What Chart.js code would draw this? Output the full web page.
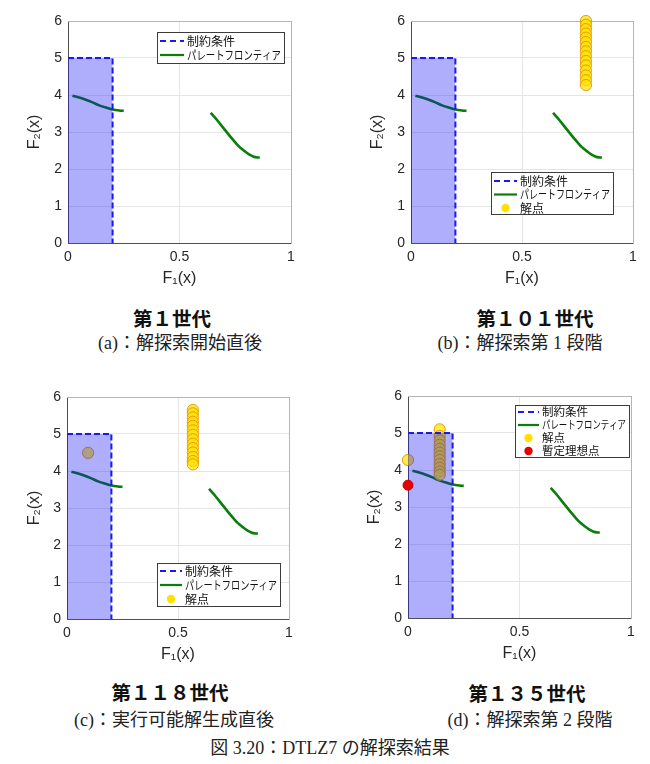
<!DOCTYPE html>
<html><head><meta charset="utf-8">
<script src="https://cdn.jsdelivr.net/npm/chart.js@4.4.0/dist/chart.umd.min.js"></script>
<style>
html,body{margin:0;padding:0;background:#fff;width:650px;height:764px;overflow:hidden;position:relative}
canvas{position:absolute}
.cap{position:absolute;transform:translateX(-50%);white-space:nowrap;line-height:1;color:#111}
.gen{font-family:"Noto Sans CJK JP";font-weight:700;font-size:19.5px}
.sub{font-family:"Liberation Serif","Noto Sans CJK JP";font-size:18px;color:#222}
</style></head><body>
<canvas id="ca" width="325" height="300" style="left:0;top:0"></canvas>
<canvas id="cb" width="307" height="300" style="left:343px;top:0"></canvas>
<canvas id="cc" width="325" height="300" style="left:0;top:376px"></canvas>
<canvas id="cd" width="310" height="300" style="left:340px;top:375px"></canvas>
<div class="cap gen" style="left:172px;top:308px">第１世代</div>
<div class="cap sub" style="left:180px;top:334px">(a)：解探索開始直後</div>
<div class="cap gen" style="left:535px;top:308px">第１０１世代</div>
<div class="cap sub" style="left:520px;top:334px">(b)：解探索第 1 段階</div>
<div class="cap gen" style="left:170px;top:682px">第１１８世代</div>
<div class="cap sub" style="left:174px;top:711px">(c)：実行可能解生成直後</div>
<div class="cap gen" style="left:527px;top:683px">第１３５世代</div>
<div class="cap sub" style="left:530px;top:711px">(d)：解探索第 2 段階</div>
<div class="cap sub" style="left:330px;top:739px">図 3.20：DTLZ7 の解探索結果</div>
<script>
// ---- data ----
const xTickValues=[0,0.5,1];
const yTickValues=[0,1,2,3,4,5,6];
const constraintX=[0,0.2,0.2];
const constraintY=[5,5,0];
const frontLeftX=[0.02,0.05,0.08,0.11,0.14,0.17,0.20,0.23,0.25];
const frontLeftY=[3.98,3.93,3.87,3.80,3.72,3.66,3.61,3.58,3.57];
const frontRightX=[0.64,0.65,0.67,0.69,0.71,0.73,0.75,0.77,0.79,0.81,0.83,0.85,0.86];
const frontRightY=[3.52,3.45,3.31,3.16,3.01,2.86,2.72,2.59,2.49,2.40,2.34,2.31,2.31];
const solBX=[0.788,0.788,0.788,0.788,0.788,0.788,0.788,0.788,0.788,0.788,0.788,0.788,0.788,0.788,0.788];
const solBY=[6.00,5.90,5.78,5.66,5.55,5.43,5.30,5.18,5.05,4.92,4.80,4.66,4.53,4.40,4.27];
const solCX=[0.095,0.567,0.567,0.567,0.567,0.567,0.567,0.567,0.567,0.567,0.567,0.567,0.567,0.567,0.567];
const solCY=[4.49,5.65,5.56,5.45,5.33,5.22,5.10,4.98,4.86,4.74,4.62,4.50,4.38,4.27,4.18];
const solDX=[0,0.142,0.142,0.142,0.142,0.142,0.142,0.142,0.142,0.142,0.142,0.142,0.142];
const solDY=[4.27,5.10,4.92,4.80,4.68,4.57,4.47,4.37,4.27,4.16,4.06,3.96,3.87];
const idealDX=[0];
const idealDY=[3.59];
const labelConstraint='制約条件', labelFront='パレートフロンティア', labelSol='解点', labelIdeal='暫定理想点';

const pts=(xs,ys)=>xs.map((x,i)=>({x:x,y:ys[i]}));

const legendBox={id:'legendBox',afterDraw(chart){
  const o=chart.options.plugins.legendBox; if(!o)return;
  const ctx=chart.ctx;
  const items=chart.data.datasets.filter(d=>d.legendKind).sort((a,b)=>a.legendRank-b.legendRank);
  ctx.save();
  ctx.fillStyle='#fff';ctx.fillRect(o.x,o.y,o.w,o.h);
  ctx.strokeStyle='#3c3c3c';ctx.lineWidth=1;ctx.strokeRect(o.x+0.5,o.y+0.5,o.w,o.h);
  items.forEach((d,i)=>{
    const cy=o.y+o.first+i*o.row;
    ctx.save();
    if(d.legendKind==='dash'||d.legendKind==='line'){
      ctx.strokeStyle=d.borderColor;ctx.lineWidth=2.2;
      ctx.setLineDash(d.legendKind==='dash'?[6,4]:[]);
      ctx.beginPath();ctx.moveTo(o.x+3,cy);ctx.lineTo(o.x+o.tx-3,cy);ctx.stroke();
    }else{
      ctx.fillStyle=d.legendColor;
      ctx.beginPath();ctx.arc(o.x+o.tx/2,cy,4.2,0,Math.PI*2);ctx.fill();
    }
    ctx.restore();
    ctx.fillStyle='#111';ctx.font=o.size+'px "Noto Sans CJK JP"';ctx.textBaseline='middle';
    ctx.fillText(d.label,o.x+o.tx,cy,o.w-o.tx-3);
  });
  ctx.restore();
}};

function makeChart(id,opt){
  const ds=[];
  ds.push({label:labelFront,data:pts(frontLeftX,frontLeftY),showLine:true,borderColor:'#0b7d0b',borderWidth:2.6,pointRadius:0,tension:0.3,order:4,legendKind:'line',legendRank:2});
  ds.push({label:labelFront,data:pts(frontRightX,frontRightY),showLine:true,borderColor:'#0b7d0b',borderWidth:2.6,pointRadius:0,tension:0.3,order:4});
  if(opt.solX){
    ds.push({label:labelSol,data:pts(opt.solX,opt.solY),showLine:false,pointRadius:5.6,pointHoverRadius:5.6,
      backgroundColor:'rgba(255,226,0,0.72)',borderColor:'rgba(228,150,0,0.9)',borderWidth:1,clip:false,order:3,
      legendKind:'dot',legendColor:'#ffe000',legendRank:3});
  }
  ds.push({label:labelConstraint,data:pts(constraintX,constraintY),showLine:true,borderColor:'#1a1af0',borderWidth:2,
    borderDash:[6,3],pointRadius:0,fill:'origin',backgroundColor:'rgba(10,10,250,0.33)',tension:0,order:2,
    legendKind:'dash',legendRank:1});
  if(opt.idealX){
    ds.push({label:labelIdeal,data:pts(opt.idealX,opt.idealY),showLine:false,pointRadius:5,pointHoverRadius:5,
      backgroundColor:'#e60000',borderColor:'#c80000',borderWidth:1,clip:false,order:1,
      legendKind:'dot',legendColor:'#e60000',legendRank:4});
  }
  const tickFont={family:'Liberation Sans',size:14};
  return new Chart(document.getElementById(id),{
    type:'scatter',
    data:{datasets:ds},
    plugins:[legendBox],
    options:{
      responsive:false,animation:false,
      layout:{padding:{left:0,right:opt.padRight,top:21,bottom:0}},
      plugins:{legend:{display:false},tooltip:{enabled:false},legendBox:opt.legend},
      scales:{
        x:{type:'linear',position:'bottom',min:0,max:1,
          afterBuildTicks:s=>{s.ticks=xTickValues.map(v=>({value:v}));},
          afterFit:s=>{s.height=57;},
          ticks:{color:'#262626',font:tickFont,padding:6,maxRotation:0,autoSkip:false,callback:v=>String(v)},
          grid:{color:'#e6e6e6',drawTicks:false},
          border:{color:'#505050'},
          title:{display:true,text:'F₁(x)',color:'#262626',font:{family:'Liberation Sans',size:16},padding:{top:0,bottom:12}}},
        y:{type:'linear',position:'left',min:0,max:6,
          afterBuildTicks:s=>{s.ticks=yTickValues.map(v=>({value:v}));},
          afterFit:s=>{s.width=opt.yWidth;},
          ticks:{color:'#262626',font:tickFont,padding:6,autoSkip:false,callback:v=>String(v)},
          grid:{color:'#e6e6e6',drawTicks:false},
          border:{color:'#505050'},
          title:{display:true,text:'F₂(x)',color:'#262626',font:{family:'Liberation Sans',size:16},padding:{top:25,bottom:0}}},
        xTop:{type:'linear',position:'top',min:0,max:1,display:true,afterFit:s=>{s.height=0;},
          ticks:{display:false},grid:{drawOnChartArea:false,drawTicks:false},border:{color:'#b4b4b4'}},
        yRight:{type:'linear',position:'right',min:0,max:6,display:true,afterFit:s=>{s.width=0;},
          ticks:{display:false},grid:{drawOnChartArea:false,drawTicks:false},border:{color:'#b4b4b4'}}
      }
    }
  });
}

makeChart('ca',{padRight:34,yWidth:68,legend:{x:157,y:32,w:127,h:31,first:9,row:14,tx:30,size:12}});
makeChart('cb',{padRight:17,yWidth:68,solX:solBX,solY:solBY,legend:{x:148,y:172,w:122,h:42,first:9,row:13.5,tx:29,size:12}});
makeChart('cc',{padRight:36,yWidth:67,solX:solCX,solY:solCY,legend:{x:157,y:187,w:123,h:43,first:8,row:14,tx:28,size:12}});
makeChart('cd',{padRight:19,yWidth:68,solX:solDX,solY:solDY,idealX:idealDX,idealY:idealDY,legend:{x:175,y:30,w:114,h:52,first:7,row:13,tx:27,size:11.5}});
</script>
</body></html>
